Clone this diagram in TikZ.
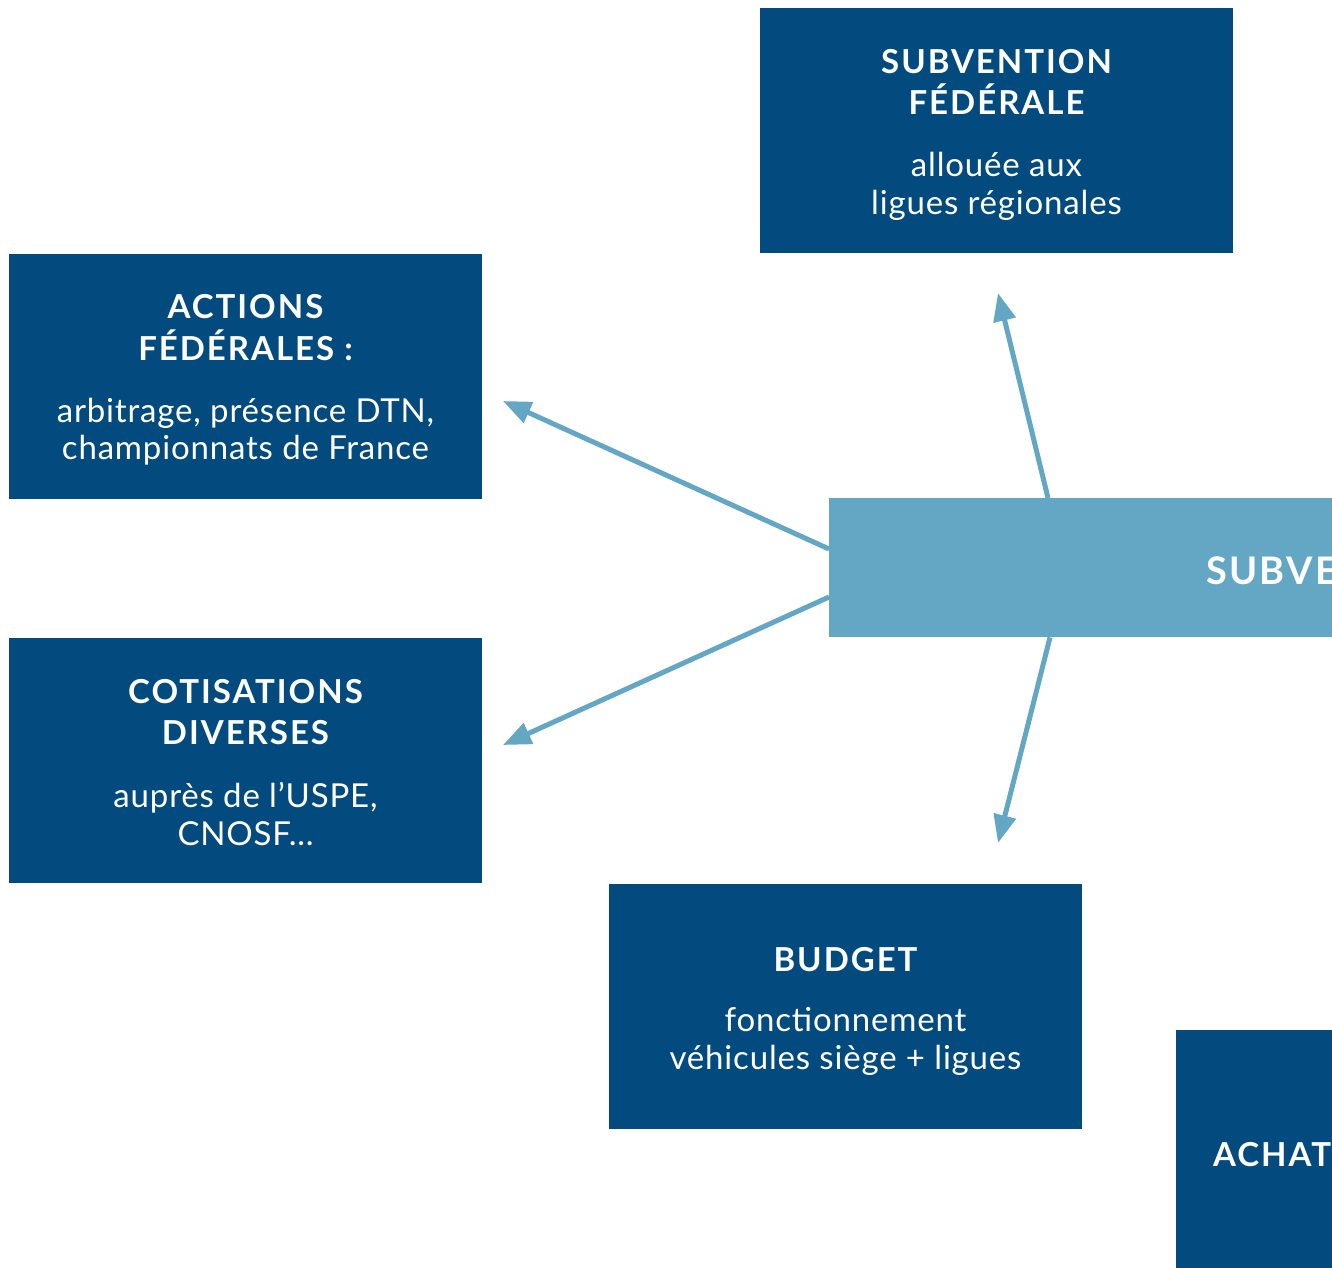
\documentclass[tikz,border=0pt]{standalone}
\usepackage{fontspec}
\setmainfont{Lato}
\newfontfamily\titlefam{Lato}[LetterSpace=6]
\newfontfamily\bodyfam{Lato}[LetterSpace=2.5]
\usetikzlibrary{arrows.meta}
\definecolor{dblue}{HTML}{034B7E}
\definecolor{lblue}{HTML}{63A7C4}
\newcommand{\ttlfont}{\titlefam\bfseries\fontsize{33}{33}\selectfont}
\newcommand{\bigttlfont}{\titlefam\bfseries\fontsize{38}{38}\selectfont}
\newcommand{\bdyfont}{\bodyfam\fontsize{33}{33}\selectfont}
\begin{document}
\begin{tikzpicture}[x=1pt,y=-1pt,
  box/.style={fill=dblue, draw=none, inner sep=0pt, minimum width=473pt, minimum height=245pt, anchor=north west},
  ttl/.style={text=white, anchor=base, font=\ttlfont, inner sep=0pt},
  bdy/.style={text=white, anchor=base, font=\bdyfont, inner sep=0pt},
  conn/.style={draw=lblue, line width=5pt, -{Triangle[length=28pt,width=22pt]}}]
\useasboundingbox (0,0) rectangle (1332,1267);
\clip (0,0) rectangle (1332,1267);
% boxes
\node[box] (sf) at (760,8) {};
\node[ttl] (sf1) at (996.5,73) {SUBVENTION};
\node[ttl] (sf2) at (996.5,114) {FÉDÉRALE};
\node[bdy] (sf3) at (996.5,176) {allouée aux};
\node[bdy] (sf4) at (996.5,214) {ligues régionales};

\node[box] (af) at (9,254) {};
\node[ttl] (af1) at (245.5,318) {ACTIONS};
\node[ttl] (af2) at (245.5,360) {FÉDÉRALES~:};
\node[bdy] (af3) at (245.5,422) {arbitrage, présence DTN,};
\node[bdy] (af4) at (245.5,459) {championnats de France};

\node[box] (cf) at (9,638) {};
\node[ttl] (cf1) at (245.5,703) {COTISATIONS};
\node[ttl] (cf2) at (245.5,744) {DIVERSES};
\node[bdy] (cf3) at (245.5,807) {auprès de l’USPE,};
\node[bdy] (cf4) at (245.5,845) {CNOSF…};

\node[box] (bf) at (609,884) {};
\node[ttl] (bf1) at (845.5,971) {BUDGET};
\node[bdy] (bf2) at (845.5,1031) {fonctionnement};
\node[bdy] (bf3) at (845.5,1069) {véhicules siège + ligues};

\node[box, fill=lblue, minimum width=540pt, minimum height=139pt] (sm) at (829,498) {};
\node[text=white, font=\bigttlfont, inner sep=0pt, anchor=base west] (sm1) at (1206,584) {SUBVE};

\node[box, minimum width=200pt, minimum height=300pt] (ac) at (1176,1030) {};
\node[ttl, anchor=base west] (ac1) at (1213,1166) {ACHAT};

% connectors
\coordinate (t1) at (998,293);
\coordinate (t2) at (503,401);
\coordinate (t3) at (503,745);
\coordinate (t4) at (998,843);
\draw[conn] ([xshift=219pt]sm.north west) -- (t1);
\draw[conn] ([yshift=-51pt]sm.north west) -- (t2);
\draw[conn] ([yshift=-99pt]sm.north west) -- (t3);
\draw[conn] ([xshift=221pt]sm.south west) -- (t4);
\end{tikzpicture}
\end{document}
